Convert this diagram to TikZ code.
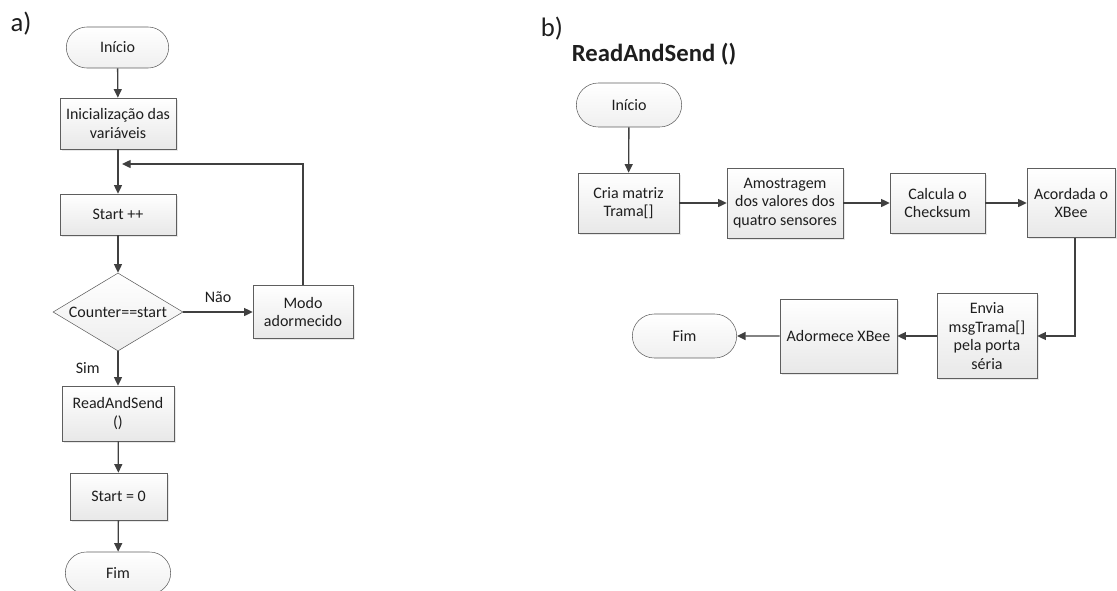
\documentclass[tikz,border=0pt]{standalone}
\usepackage{fontspec}
\setmainfont{Carlito}
\usetikzlibrary{shapes.geometric, shapes.misc, arrows.meta, shadows}
\definecolor{linegray}{HTML}{404040}
\definecolor{boxgray}{HTML}{5E5E5E}
\definecolor{textgray}{HTML}{1E1E1E}

\begin{document}
\begin{tikzpicture}[
    x=0.75pt, y=-0.75pt,
    every node/.style={text=textgray},
    process/.style={rectangle, draw=boxgray, top color=white, bottom color=black!9,
                    font=\fontsize{12}{14}\selectfont, align=center, inner sep=1pt,
                    drop shadow={shadow xshift=1.4pt, shadow yshift=-1.4pt, opacity=0.18}},
    terminal/.style={rounded rectangle, draw=boxgray, top color=white, bottom color=black!6,
                     font=\fontsize{12}{14}\selectfont, inner sep=1pt},
    decision/.style={diamond, aspect=1.67, draw=boxgray, top color=white, bottom color=black!7,
                     font=\fontsize{12}{14}\selectfont, inner sep=0pt},
    arrow/.style={-{Triangle[length=6.5pt, width=6pt]}, draw=linegray, line width=1pt},
    caption/.style={font=\fontsize{12}{14}\selectfont}
]
\useasboundingbox (0,0) rectangle (1117,590);

% a) main loop
\node[font=\fontsize{20}{24}\selectfont] at (21,24) (tagA) {a)};

\node[terminal, minimum width=78.75pt, minimum height=30.75pt] at (117.5,47.5) (inicioA) {Início};
\node[process, minimum width=87pt, minimum height=38.25pt] at (118,123.5) (init)
    {Inicialização das\\variáveis};
\coordinate (loop) at (118,164);
\node[process, minimum width=87pt, minimum height=30.75pt] at (118,214.5) (startinc) {Start ++};
\node[decision, minimum width=97.5pt, minimum height=58.5pt] at (118,312) (test) {Counter==start};
\node[process, minimum width=75pt, minimum height=39.75pt] at (303,312) (sleep)
    {Modo\\adormecido};
\node[process, minimum width=84pt, minimum height=41.25pt] at (118,413.5) (readsend)
    {ReadAndSend\\()};
\node[process, minimum width=72.75pt, minimum height=35.25pt] at (118.5,496.5) (startzero) {Start = 0};
\node[terminal, minimum width=81pt, minimum height=31.5pt] at (118,573) (fimA) {Fim};

\draw[arrow] (inicioA) -- (init);
\draw[arrow] (init) -- (startinc);
\draw[arrow] (startinc) -- (test);
\draw[arrow] (test) -- node[caption, above=3pt] (nao) {Não} (sleep);
\draw[arrow] (test) -- node[caption, left=10pt] (sim) {Sim} (readsend);
\draw[arrow] (readsend) -- (startzero);
\draw[arrow] (startzero) -- (fimA);
\draw[arrow] (sleep.north) |- ([xshift=3pt]loop);

% b) ReadAndSend routine
\node[font=\fontsize{20}{24}\selectfont] at (552,29) (tagB) {b)};
\node[font=\fontsize{18.5}{22}\selectfont\bfseries] at (654,54) (title) {ReadAndSend ()};

\node[terminal, minimum width=81pt, minimum height=33pt] at (629,105) (inicioB) {Início};
\node[process, minimum width=75.75pt, minimum height=45pt] at (628.5,203) (cria)
    {Cria matriz\\Trama[]};
\node[process, minimum width=87pt, minimum height=52.5pt] at (785,203) (amostra)
    {Amostragem\\dos valores dos\\quatro sensores};
\node[process, minimum width=71.25pt, minimum height=45pt] at (937.5,203) (checksum)
    {Calcula o\\Checksum};
\node[process, minimum width=66pt, minimum height=51.75pt] at (1071,203) (acorda)
    {Acordada o\\XBee};
\node[process, minimum width=75pt, minimum height=63.75pt] at (987,336) (envia)
    {Envia\\msgTrama[]\\pela porta\\séria};
\node[process, minimum width=87.75pt, minimum height=55.5pt] at (838.5,336) (adormece)
    {Adormece XBee};
\node[terminal, minimum width=80.25pt, minimum height=33pt] at (684.5,336) (fimB) {Fim};

\draw[arrow] (inicioB) -- (cria);
\draw[arrow] (cria) -- (amostra);
\draw[arrow] (amostra) -- (checksum);
\draw[arrow] (checksum) -- (acorda);
\draw[arrow] ([xshift=3pt]acorda.south) |- (envia.east);
\draw[arrow] (envia) -- (adormece);
\draw[arrow] (adormece) -- (fimB);

\end{tikzpicture}
\end{document}
